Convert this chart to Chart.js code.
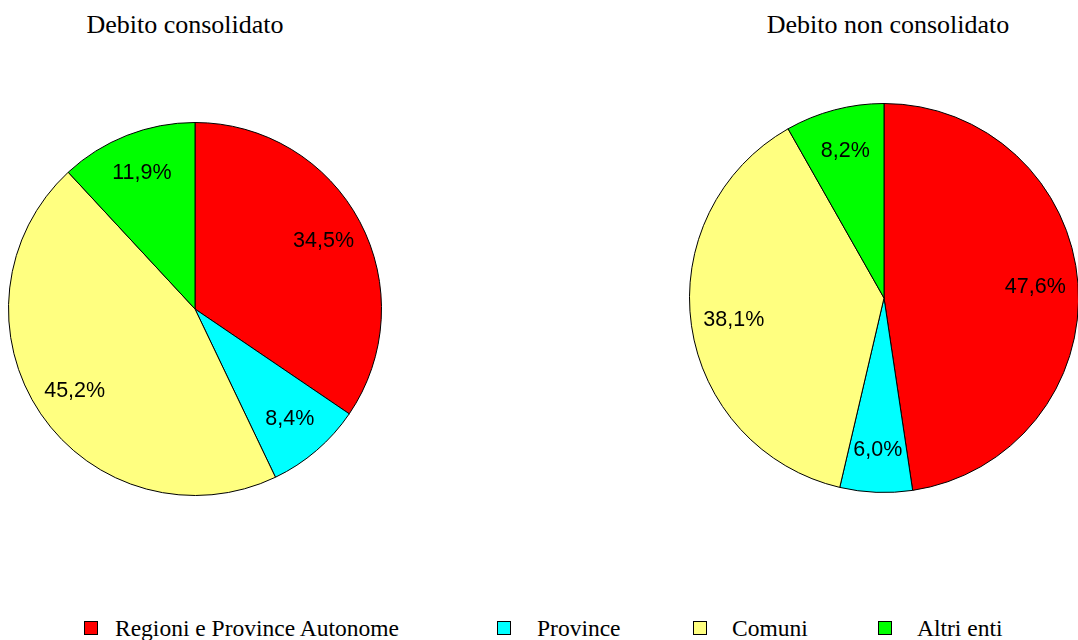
<!DOCTYPE html>
<html>
<head>
<meta charset="utf-8">
<script src="https://cdn.jsdelivr.net/npm/chart.js@4"></script>
<style>
  body { margin: 0; background: #fff; overflow: hidden; }
  #pagina { position: relative; width: 1078px; height: 640px; }
  .titolo { position: absolute; top: 10px; line-height: 30px; font-family: "Liberation Serif", "Times New Roman", serif; font-size: 26px; color: #000; white-space: nowrap; transform: translateX(-50%); }
  .torta { position: absolute; }
  .voce { position: absolute; top: 616px; line-height: 24px; font-family: "Liberation Serif", "Times New Roman", serif; font-size: 23.5px; color: #000; white-space: nowrap; }
  .quadro { position: absolute; top: 621px; width: 12px; height: 12px; border: 1px solid #000; }
</style>
</head>
<body>
<div id="pagina">
  <div class="titolo" style="left:185px">Debito consolidato</div>
  <div class="titolo" style="left:888px">Debito non consolidato</div>

  <div class="torta" style="left:8px; top:122px; width:374px; height:374px;"><canvas id="grafico-consolidato"></canvas></div>
  <div class="torta" style="left:689px; top:103px; width:390px; height:390px;"><canvas id="grafico-non-consolidato"></canvas></div>

  <div id="legenda"></div>
</div>

<script>
// Categorie e valori (percentuali)
const categorie = ['Regioni e Province Autonome', 'Province', 'Comuni', 'Altri enti'];
const valoriConsolidato = [34.5, 8.4, 45.2, 11.9];
const valoriNonConsolidato = [47.6, 6.0, 38.1, 8.2];
const colori = ['#FF0000', '#00FFFF', '#FFFF80', '#00FF00'];

// Posizione orizzontale delle voci di legenda
const legendaQuadri = [84, 497, 693, 878];
const legendaTesti = [115, 537, 732, 917];

// Plugin per scrivere le percentuali dentro le fette
const etichettePercentuali = {
    id: 'etichettePercentuali',
    afterDatasetsDraw(chart) {
        const ctx = chart.ctx;
        const meta = chart.getDatasetMeta(0);
        const valori = chart.data.datasets[0].data;
        ctx.save();
        ctx.font = '21.5px "Liberation Sans", Arial, sans-serif';
        ctx.fillStyle = '#000';
        ctx.textAlign = 'center';
        ctx.textBaseline = 'middle';
        meta.data.forEach((arco, i) => {
            const p = arco.getProps(['x', 'y', 'startAngle', 'endAngle', 'outerRadius'], true);
            const medio = (p.startAngle + p.endAngle) / 2;
            const r = p.outerRadius * 0.78;
            const testo = valori[i].toFixed(1).replace('.', ',') + '%';
            ctx.fillText(testo, p.x + Math.cos(medio) * r, p.y + Math.sin(medio) * r);
        });
        ctx.restore();
    }
};

function creaTorta(id, valori) {
    const ctx = document.getElementById(id).getContext('2d');
    return new Chart(ctx, {
        type: 'pie',
        data: {
            labels: categorie,
            datasets: [{
                data: valori,
                backgroundColor: colori,
                borderColor: '#000',
                borderWidth: 1
            }]
        },
        options: {
            responsive: true,
            maintainAspectRatio: false,
            animation: false,
            layout: { padding: 0 },
            plugins: {
                legend: { display: false },
                tooltip: { enabled: false }
            }
        },
        plugins: [etichettePercentuali]
    });
}

creaTorta('grafico-consolidato', valoriConsolidato);
creaTorta('grafico-non-consolidato', valoriNonConsolidato);

// Legenda comune in basso
const legenda = document.getElementById('legenda');
categorie.forEach((nome, i) => {
    const quadro = document.createElement('div');
    quadro.className = 'quadro';
    quadro.style.left = legendaQuadri[i] + 'px';
    quadro.style.background = colori[i];
    legenda.appendChild(quadro);

    const voce = document.createElement('div');
    voce.className = 'voce';
    voce.style.left = legendaTesti[i] + 'px';
    voce.textContent = nome;
    legenda.appendChild(voce);
});
</script>
</body>
</html>
